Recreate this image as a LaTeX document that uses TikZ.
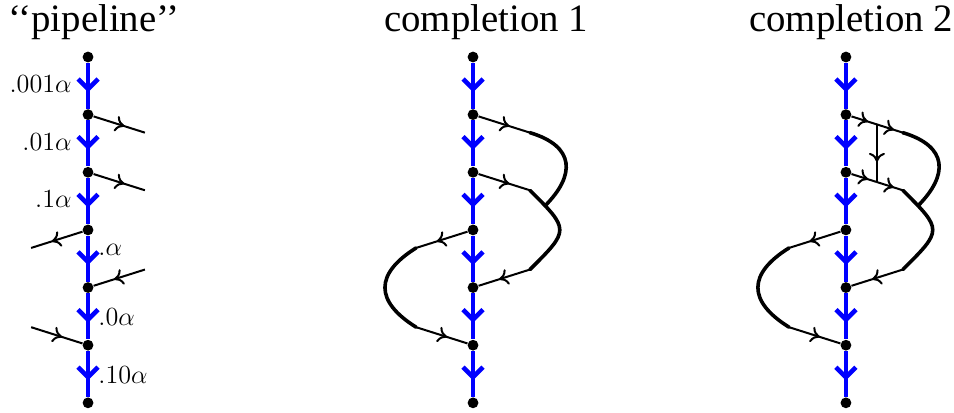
\documentclass[tikz,border=0pt]{standalone}
\usepackage{fontspec}
\usepackage{tikz}
\usetikzlibrary{
  arrows.meta,
  decorations.markings
}
\newfontfamily\ttlfont{Liberation Serif}
\definecolor{plBlue}{HTML}{0000FF}
\tikzset{
  pdot/.style={circle, fill=black, inner sep=0pt, minimum size=5.4pt},
  midarrow/.style={
    postaction={decorate},
    decoration={markings, mark=at position #1 with {\arrow{Computer Modern Rightarrow[length=4.5pt,width=8pt]}}}
  },
  midarrow/.default=0.6,
  pipe/.style={
    line width=2.3pt, plBlue,
    postaction={decorate},
    decoration={markings, mark=at position 0.64 with {\arrow{Straight Barb[length=5pt,width=10pt]}}}
  },
  wire/.style={line width=1pt, black},
  loopline/.style={line width=1.8pt, black, line cap=round},
  lbl/.style={inner sep=0pt, font=\large, scale=1.09, transform shape},
  ttl/.style={anchor=base, inner sep=0pt, font=\ttlfont\fontsize{19.4}{22}\selectfont}
}
\begin{document}
\begin{tikzpicture}[y=1.013cm]
  \useasboundingbox (-1.547,0.989) rectangle (15.219,-6.176);
  % the three columns
  \foreach \col/\cx in {p/0,c/6.766,d/13.32}{
    \foreach \k in {0,...,6}
      \node[pdot] (\col\k) at (\cx,-\k) {};
    \foreach \k [count=\n from 1] in {0,...,5}
      \draw[pipe] (\col\k) -- (\col\n);
    \coordinate (\col-a1) at (\cx+1,-1.3125);
    \coordinate (\col-a2) at (\cx+1,-2.3125);
    \coordinate (\col-a3) at (\cx-1,-3.3125);
    \coordinate (\col-a4) at (\cx+1,-3.6875);
    \coordinate (\col-a5) at (\cx-1,-4.6875);
  }
  % stubs
  \foreach \col in {p,c}{
    \draw[wire,midarrow] (\col1) -- (\col-a1);
    \draw[wire,midarrow] (\col2) -- (\col-a2);
  }
  \foreach \col in {p,c,d}{
    \draw[wire,midarrow] (\col3) -- (\col-a3);
    \draw[wire,midarrow] (\col-a4) -- (\col4);
    \draw[wire,midarrow] (\col-a5) -- (\col5);
  }
  % split stubs of completion 2
  \coordinate (d-j1) at (13.865,-1.170);
  \coordinate (d-j2) at (13.865,-2.170);
  \draw[wire,midarrow=0.65] (d1) -- (d-j1);
  \draw[wire,midarrow=0.65] (d-j1) -- (d-a1);
  \draw[wire,midarrow=0.65] (d2) -- (d-j2);
  \draw[wire,midarrow=0.65] (d-j2) -- (d-a2);
  \draw[wire,midarrow=0.65] (d-j1) -- (d-j2);
  % completions
  \foreach \col in {c,d}{
    \draw[loopline] (\col-a2) .. controls +(0.7,-0.6875) and +(0.7,0.6875) .. (\col-a4)
      coordinate[pos=0.15] (\col-m);
    \draw[loopline] (\col-a1) .. controls +(0.8,-0.2375) and +(0.532,0.53) .. (\col-m);
    \draw[loopline] (\col-a3) .. controls +(-0.73,-0.45) and +(-0.73,0.45) .. (\col-a5);
  }
  % labels
  \node[lbl, anchor=base east] (l1) at (-0.281,-0.608) {$.001\alpha$};
  \node[lbl, anchor=base east] (l2) at (-0.281,-1.615) {$.01\alpha$};
  \node[lbl, anchor=base east] (l3) at (-0.281,-2.604) {$.1\alpha$};
  \node[lbl, anchor=base west] (l4) at (0.176,-3.4375) {$.\alpha$};
  \node[lbl, anchor=base west] (l5) at (0.176,-4.653) {$.0\alpha$};
  \node[lbl, anchor=base west] (l6) at (0.176,-5.66) {$.10\alpha$};
  \node[ttl] (t-p) at (0.105,0.434) {‘‘pipeline’’};
  \node[ttl] (t-c) at (6.995,0.434) {completion 1};
  \node[ttl] (t-d) at (13.41,0.434) {completion 2};
\end{tikzpicture}
\end{document}
